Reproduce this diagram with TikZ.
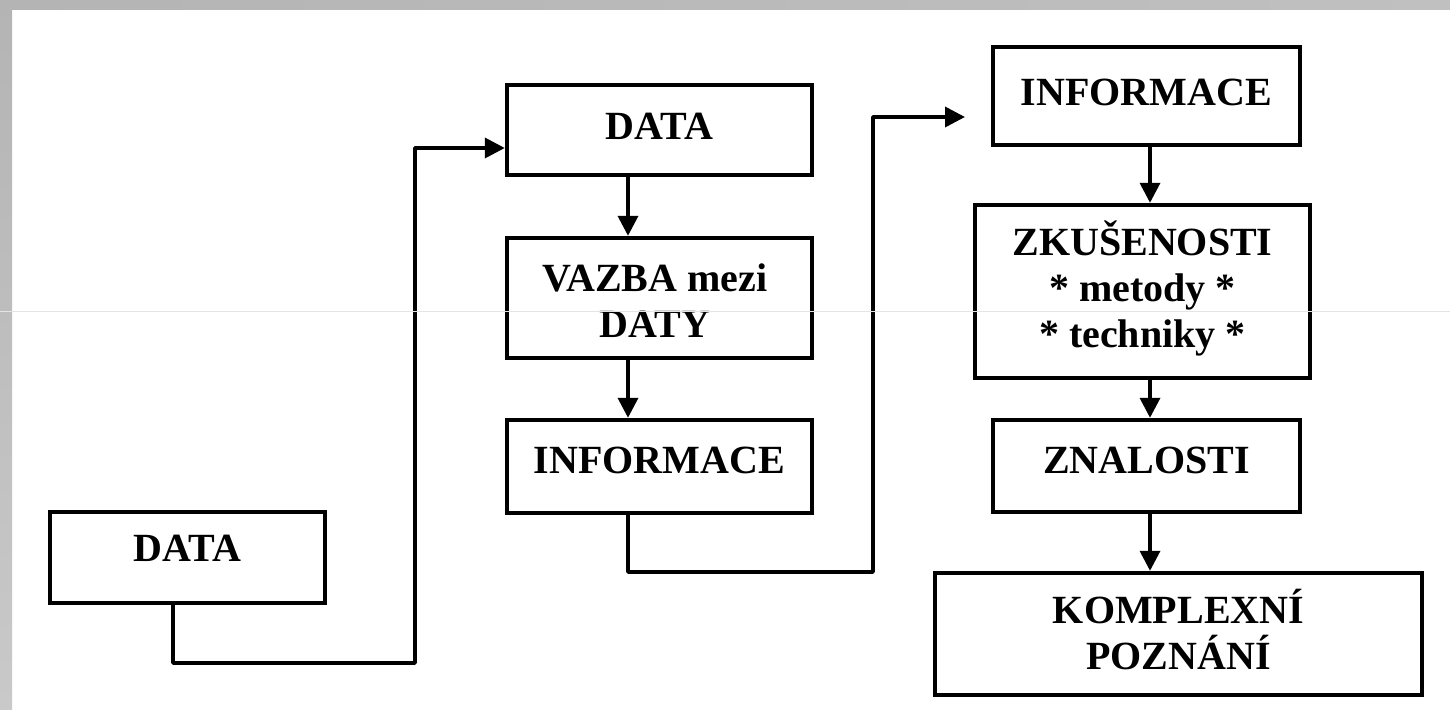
\documentclass[tikz,border=0pt]{standalone}
\usepackage{fontspec}
\setmainfont{Liberation Serif}
\usetikzlibrary{arrows.meta}
\definecolor{frameL}{HTML}{B4B4B4}
\definecolor{frameR}{HTML}{C0C0C0}
\definecolor{frameB}{HTML}{C9C9C9}
\definecolor{hairline}{HTML}{E4E4E4}
\tikzset{
  box/.style={draw=black, line width=2.2pt, fill=white, inner sep=0pt},
  txt/.style={font=\fontsize{20}{23}\selectfont\bfseries, align=center, inner sep=0pt},
  conn/.style={draw=black, line width=1.8pt, line join=round},
  arr/.style={conn, -{Triangle[length=10pt,width=10pt]}},
}
\begin{document}
\begin{tikzpicture}[x=0.5pt, y=-0.5pt]
  % page frame
  \useasboundingbox (0,0) rectangle (1450,710);
  \fill[white] (0,0) rectangle (1450,710);
  \shade[left color=frameL, right color=frameR] (0,0) rectangle (1450,10);
  \shade[top color=frameL, bottom color=frameB] (0,0) rectangle (12,710);

  % boxes
  \node[box, minimum width=275pt*0.5, minimum height=91pt*0.5] (d1) at (187.5,557.5) {};
  \node[box, minimum width=305pt*0.5, minimum height=90pt*0.5] (d2) at (659.5,130) {};
  \node[box, minimum width=305pt*0.5, minimum height=120pt*0.5] (vaz) at (659.5,298) {};
  \node[box, minimum width=305pt*0.5, minimum height=93pt*0.5] (inf1) at (659.5,466.5) {};
  \node[box, minimum width=307pt*0.5, minimum height=98pt*0.5] (inf2) at (1146.5,96) {};
  \node[box, minimum width=335pt*0.5, minimum height=173pt*0.5] (zk) at (1142.5,291.5) {};
  \node[box, minimum width=307pt*0.5, minimum height=92pt*0.5] (zn) at (1146.5,466) {};
  \node[box, minimum width=487pt*0.5, minimum height=122pt*0.5] (kp) at (1178.5,634) {};

  % labels
  \node[txt] (t1) at (187.5,548) {DATA};
  \node[txt] (t2) at (659.5,126) {DATA};
  \node[txt] (t3) at (655,301) {VAZBA mezi\\DATY};
  \node[txt] (t4) at (659.5,460) {INFORMACE};
  \node[txt] (t5) at (1146.5,92) {INFORMACE};
  \node[txt] (t6) at (1142.5,288) {ZKUŠENOSTI\\* metody *\\* techniky *};
  \node[txt] (t7) at (1146.5,460) {ZNALOSTI};
  \node[txt] (t8) at (1178.5,630) {KOMPLEXNÍ\\POZNÁNÍ};

  % routing points
  \coordinate (lx) at (173,0);
  \coordinate (mx) at (628,0);
  \coordinate (rx) at (1150,0);
  \coordinate (a1) at (415,663);
  \coordinate (a2) at (415,148);
  \coordinate (b1) at (873,572);
  \coordinate (b2) at (873,117);
  \coordinate (bend) at (965,117);

  % connectors
  \draw[arr] (d1.south -| lx) |- (a1) -- (a2) -- (d2.west |- a2);
  \draw[arr] (d2.south -| mx) -- (vaz.north -| mx);
  \draw[arr] (vaz.south -| mx) -- (inf1.north -| mx);
  \draw[arr] (inf1.south -| mx) |- (b1) -- (b2) -- (bend);
  \draw[arr] (inf2.south -| rx) -- (zk.north -| rx);
  \draw[arr] (zk.south -| rx) -- (zn.north -| rx);
  \draw[arr] (zn.south -| rx) -- (kp.north -| rx);

  % faint scan line across the sheet
  \draw[hairline, line width=0.5pt] (0,312) -- (1450,312);
\end{tikzpicture}
\end{document}
